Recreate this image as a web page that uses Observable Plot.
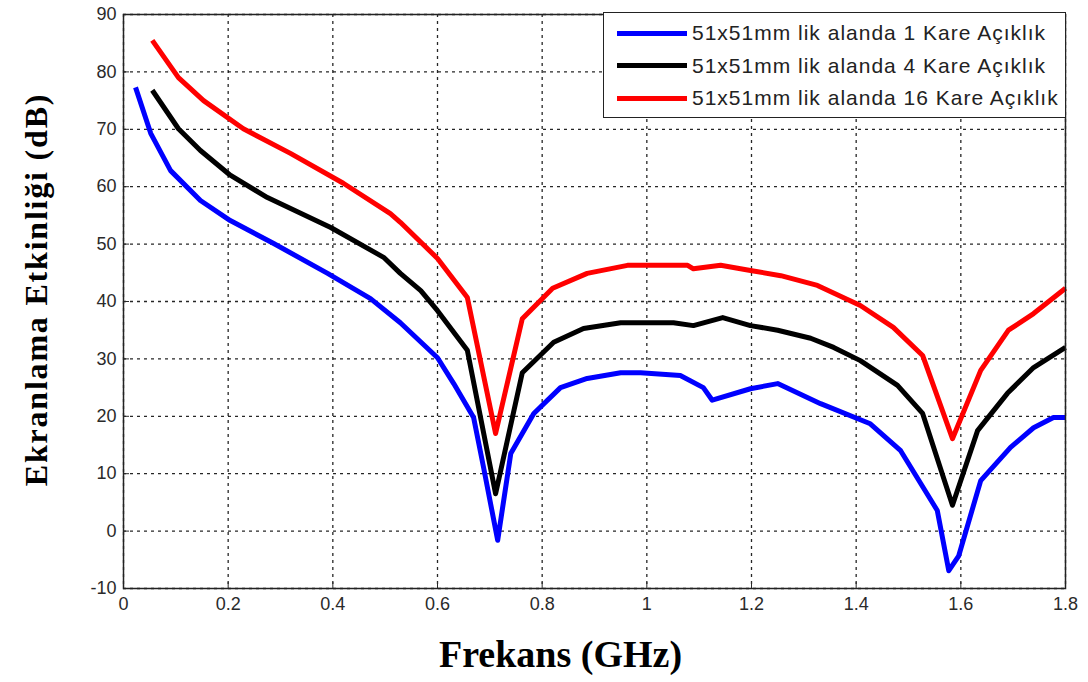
<!DOCTYPE html>
<html>
<head>
<meta charset="utf-8">
<script src="https://cdn.jsdelivr.net/npm/d3@7"></script>
<script src="https://cdn.jsdelivr.net/npm/@observablehq/plot@0.6"></script>
<style>
  html, body { margin: 0; padding: 0; background: #fff; }
  #wrap { position: relative; width: 1088px; height: 682px; }
  #legend { position: absolute; left: 603px; top: 12px; width: 463px; height: 106px;
    border: 1.5px solid #222; background: #fff; box-sizing: border-box;
    font-family: "Liberation Sans", Arial, sans-serif; font-size: 21px; letter-spacing: 1px; color: #222; padding-top: 4px; }
  .row { display: flex; align-items: center; height: 32.5px; white-space: nowrap; }
  .sw { width: 70px; height: 5px; margin-left: 13px; margin-right: 5px; }
  .ylab { letter-spacing: 1.8px; }
</style>
</head>
<body>
<div id="wrap"></div>
<script>
const xTicks = [0, 0.2, 0.4, 0.6, 0.8, 1, 1.2, 1.4, 1.6, 1.8];
const yTicks = [-10, 0, 10, 20, 30, 40, 50, 60, 70, 80, 90];

const seriesNames = [
  "51x51mm lik alanda 1 Kare Açıklık",
  "51x51mm lik alanda 4 Kare Açıklık",
  "51x51mm lik alanda 16 Kare Açıklık"
];
const seriesColors = ["#0000ff", "#000000", "#ff0000"];

const blueX = [0.023,0.052,0.09,0.147,0.204,0.287,0.39,0.472,0.529,0.6,0.631,0.669,0.688,0.715,0.74,0.784,0.835,0.886,0.95,0.988,1.064,1.108,1.125,1.198,1.25,1.332,1.427,1.485,1.555,1.577,1.596,1.638,1.695,1.739,1.777,1.8];
const blueY = [77.3,69.3,62.8,57.6,54.1,50.1,44.9,40.5,36.3,30.2,25.7,19.8,11.1,-1.6,13.5,20.5,25,26.6,27.6,27.6,27.1,25,22.8,24.8,25.7,22.2,18.7,14.0,3.6,-6.9,-4.3,8.8,14.6,18.0,19.8,19.8];

const blackX = [0.055,0.105,0.147,0.204,0.275,0.396,0.497,0.529,0.568,0.6,0.657,0.711,0.762,0.822,0.879,0.95,1.051,1.089,1.145,1.198,1.25,1.313,1.357,1.408,1.479,1.527,1.584,1.632,1.689,1.739,1.8];
const blackY = [76.8,70.1,66.3,62,58.1,52.9,47.7,44.9,41.9,38.4,31.5,6.5,27.6,32.9,35.3,36.3,36.3,35.8,37.2,35.8,35,33.6,32,29.7,25.4,20.5,4.5,17.5,24,28.5,32];

const redX = [0.055,0.105,0.153,0.229,0.319,0.42,0.51,0.529,0.6,0.657,0.711,0.762,0.82,0.886,0.963,1.078,1.089,1.141,1.198,1.256,1.326,1.408,1.471,1.527,1.584,1.638,1.691,1.739,1.8];
const redY = [85.5,79,75,70.1,65.8,60.6,55.3,53.8,47.5,40.7,17,37,42.3,44.9,46.3,46.3,45.7,46.3,45.4,44.5,42.8,39.3,35.5,30.6,16.1,28,35,37.9,42.3];

const toRows = (xs, ys, s) => xs.map((x, i) => ({x, y: ys[i], s}));
const data = [
  ...toRows(blueX, blueY, seriesNames[0]),
  ...toRows(blackX, blackY, seriesNames[1]),
  ...toRows(redX, redY, seriesNames[2])
];

const tickFont = "Liberation Sans, Arial, sans-serif";
const titleFont = "Liberation Serif, Times New Roman, serif";

const chart = Plot.plot({
  width: 1088,
  height: 682,
  marginLeft: 123,
  marginRight: 23,
  marginTop: 14,
  marginBottom: 94,
  style: { fontFamily: tickFont, fontSize: "18px", color: "#2a2a2a", background: "#fff" },
  x: { domain: [0, 1.8], ticks: xTicks, label: null },
  y: { domain: [-10, 90], ticks: yTicks, label: null },
  color: { domain: seriesNames, range: seriesColors },
  marks: [
    Plot.gridX(xTicks, { stroke: "#000", strokeOpacity: 0.85, strokeDasharray: "3,4", strokeWidth: 1.3 }),
    Plot.gridY(yTicks, { stroke: "#000", strokeOpacity: 0.85, strokeDasharray: "3,4", strokeWidth: 1.3 }),
    Plot.axisX({ ticks: xTicks, tickSize: 0, tickPadding: 9, label: null, tickFormat: d => String(d), fontSize: 18 }),
    Plot.axisY({ ticks: yTicks, tickSize: 0, tickPadding: 7, label: null, tickFormat: d => String(d), fontSize: 18 }),
    Plot.axisX({ ticks: xTicks, tickSize: -6, text: null, label: null, anchor: "bottom" }),
    Plot.axisY({ ticks: yTicks, tickSize: -6, text: null, label: null, anchor: "left" }),
    Plot.line(data, { x: "x", y: "y", z: "s", stroke: "s", strokeWidth: 5, strokeLinejoin: "round", strokeLinecap: "butt" }),
    Plot.frame({ stroke: "#222", strokeWidth: 1.5 }),
    Plot.text(["Frekans (GHz)"], { frameAnchor: "bottom", dy: 78, dx: -34, fontFamily: titleFont, fontWeight: "bold", fontSize: 38, fill: "#000" }),
    Plot.text(["Ekranlama Etkinliği (dB)"], { frameAnchor: "left", textAnchor: "middle", dx: -87, dy: -12, rotate: -90, fontFamily: titleFont, fontWeight: "bold", fontSize: 32, fill: "#000", className: "ylab" })
  ]
});

const wrap = document.getElementById("wrap");
wrap.appendChild(chart);

const legend = document.createElement("div");
legend.id = "legend";
seriesNames.forEach((n, i) => {
  const row = document.createElement("div");
  row.className = "row";
  const sw = document.createElement("div");
  sw.className = "sw";
  sw.style.background = seriesColors[i];
  const t = document.createElement("span");
  t.textContent = n;
  row.appendChild(sw);
  row.appendChild(t);
  legend.appendChild(row);
});
wrap.appendChild(legend);
</script>
</body>
</html>
